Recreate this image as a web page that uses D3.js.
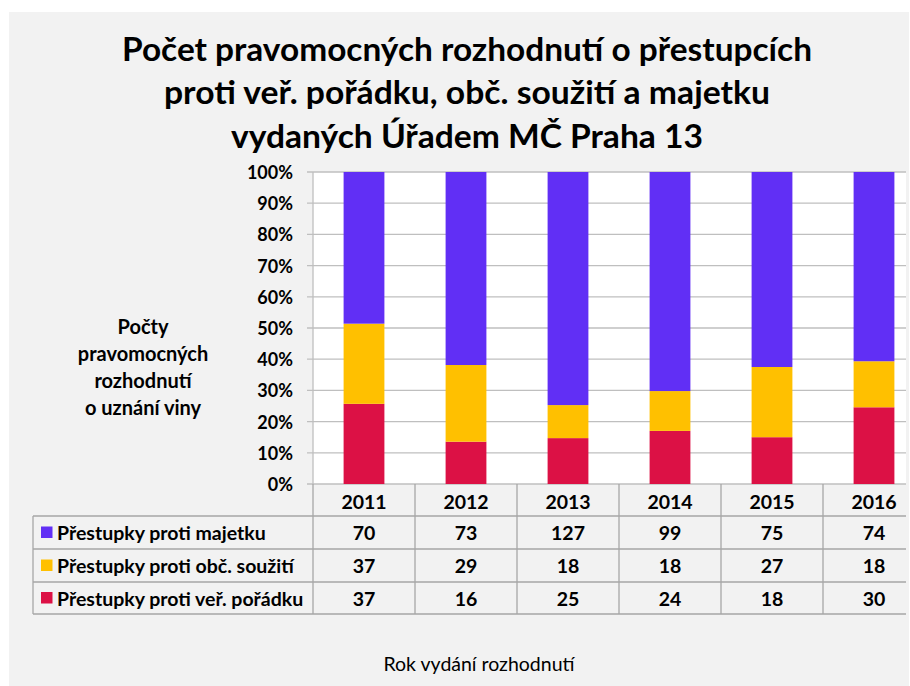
<!DOCTYPE html>
<html><head><meta charset="utf-8">
<script src="https://cdn.jsdelivr.net/npm/d3@7"></script>
<style>
html,body{margin:0;padding:0;background:#fff;}
text{font-family:Lato,"Open Sans",sans-serif;fill:#000;}
</style></head>
<body>
<svg id="chart" width="910" height="686"></svg>
<script>
const titleLines = ["Počet pravomocných rozhodnutí o přestupcích","proti veř. pořádku, obč. soužití a majetku","vydaných Úřadem MČ Praha 13"];
const yTitleLines = ["Počty","pravomocných","rozhodnutí","o uznání viny"];
const xTitle = "Rok vydání rozhodnutí";
const years = ["2011","2012","2013","2014","2015","2016"];
const seriesNames = ["Přestupky proti majetku","Přestupky proti obč. soužití","Přestupky proti veř. pořádku"];
const majetku = [70,73,127,99,75,74];
const souziti = [37,29,18,18,27,18];
const poradku = [37,16,25,24,18,30];
const colors = ["#612FF5","#FFC000","#DC1145"];
const yTicks = [0,0.1,0.2,0.3,0.4,0.5,0.6,0.7,0.8,0.9,1.0];

(function(){
const seriesValues = [majetku, souziti, poradku];
const rows = years.map((yr,i)=>({year:yr, s0:majetku[i], s1:souziti[i], s2:poradku[i]}));
const fs = 19.5;

const svg = d3.select("#chart");
svg.append("rect").attr("x",9).attr("y",12).attr("width",900).attr("height",674).attr("fill","#F2F2F2");

svg.append("defs").append("clipPath").attr("id","clip")
  .append("rect").attr("x",0).attr("y",0).attr("width",906).attr("height",686);

// Title
svg.append("g").selectAll("text").data(titleLines).join("text")
  .attr("x",467).attr("y",(d,i)=>48+i*43.5)
  .attr("text-anchor","middle").attr("dominant-baseline","central")
  .attr("font-size",32).attr("font-weight",700)
  .attr("textLength",(d,i)=>[690,606,472][i]).attr("lengthAdjust","spacingAndGlyphs")
  .text(d=>d);

const pLeft=313, colW=102, pTop=172, pBottom=484;
const x = d3.scaleBand().domain(years).range([pLeft,pLeft+colW*years.length]).paddingInner(0.6).paddingOuter(0.3);
const xCol = d3.scaleBand().domain(years).range([pLeft,pLeft+colW*years.length]);
const y = d3.scaleLinear().domain([0,1]).range([pBottom,pTop]);

const g = svg.append("g").attr("clip-path","url(#clip)");
g.append("rect").attr("x",pLeft).attr("y",pTop).attr("width",colW*years.length).attr("height",pBottom-pTop).attr("fill","#fff");

// gridlines
g.append("g").selectAll("line").data(yTicks).join("line")
  .attr("x1",pLeft-6).attr("x2",pLeft+colW*years.length)
  .attr("y1",d=>y(d)).attr("y2",d=>y(d))
  .attr("stroke","#BFBFBF").attr("stroke-width",1.3);
g.append("line").attr("x1",pLeft).attr("x2",pLeft).attr("y1",pTop).attr("y2",pBottom).attr("stroke","#BFBFBF").attr("stroke-width",1.3);

// stacked bars (100%)
const stack = d3.stack().keys(["s2","s1","s0"]).offset(d3.stackOffsetExpand);
const stacked = stack(rows);
const colorFor = {s0:colors[0], s1:colors[1], s2:colors[2]};
g.append("g").selectAll("g").data(stacked).join("g")
  .attr("fill",d=>colorFor[d.key])
  .selectAll("rect").data(d=>d).join("rect")
  .attr("x",d=>x(d.data.year)).attr("width",x.bandwidth())
  .attr("y",d=>y(d[1])).attr("height",d=>y(d[0])-y(d[1]));

// y tick labels
svg.append("g").selectAll("text").data(yTicks).join("text")
  .attr("x",293).attr("y",d=>y(d))
  .attr("text-anchor","end").attr("dominant-baseline","central")
  .attr("font-size",18).attr("font-weight",700)
  .text(d3.format(".0%"));

// y title
svg.append("g").selectAll("text").data(yTitleLines).join("text")
  .attr("x",143).attr("y",(d,i)=>326+i*27)
  .attr("text-anchor","middle").attr("dominant-baseline","central")
  .attr("font-size",fs+0.5).attr("font-weight",700)
  .text(d=>d);

// data table
const tableLeft=33;
const rowTops=[484,516,549,582,614];
const lc="#A6A6A6";
const tg = g.append("g");
tg.selectAll("line.hv").data(d3.range(years.length+1)).join("line")
  .attr("x1",i=>pLeft+i*colW).attr("x2",i=>pLeft+i*colW)
  .attr("y1",rowTops[0]).attr("y2",rowTops[4]).attr("stroke",lc).attr("stroke-width",1.3);
tg.append("line").attr("x1",tableLeft).attr("x2",tableLeft).attr("y1",rowTops[1]).attr("y2",rowTops[4]).attr("stroke",lc).attr("stroke-width",1.3);
tg.selectAll("line.h").data([1,2,3,4]).join("line")
  .attr("x1",tableLeft).attr("x2",pLeft+colW*years.length)
  .attr("y1",i=>rowTops[i]).attr("y2",i=>rowTops[i]).attr("stroke",lc).attr("stroke-width",1.3);

tg.selectAll("text.year").data(years).join("text")
  .attr("x",d=>xCol(d)+colW/2).attr("y",(rowTops[0]+rowTops[1])/2+1)
  .attr("text-anchor","middle").attr("dominant-baseline","central")
  .attr("font-size",fs).attr("font-weight",700).text(d=>d);

seriesNames.forEach((name,si)=>{
  const cy=(rowTops[si+1]+rowTops[si+2])/2;
  tg.append("rect").attr("x",41).attr("y",cy-6).attr("width",11.5).attr("height",11.5).attr("fill",colors[si]);
  tg.append("text").attr("x",57).attr("y",cy).attr("dominant-baseline","central")
    .attr("font-size",fs).attr("font-weight",700).text(name);
  tg.selectAll("text.v"+si).data(seriesValues[si]).join("text")
    .attr("x",(d,i)=>xCol(years[i])+colW/2).attr("y",cy)
    .attr("text-anchor","middle").attr("dominant-baseline","central")
    .attr("font-size",fs).attr("font-weight",700).text(d=>d);
});

// x title
svg.append("text").attr("x",479).attr("y",663)
  .attr("text-anchor","middle").attr("dominant-baseline","central")
  .attr("font-size",19.5).attr("font-weight",400).text(xTitle);
})();
</script>
</body></html>
